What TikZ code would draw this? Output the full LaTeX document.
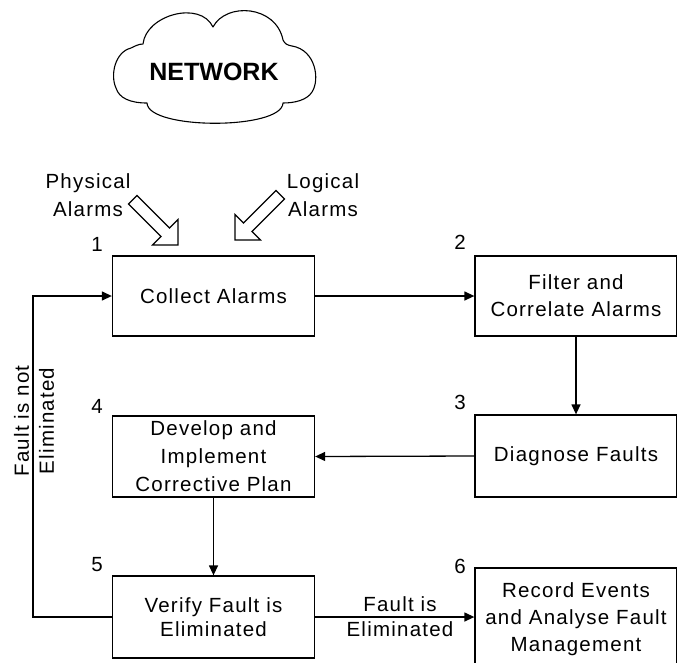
\documentclass[tikz,border=0pt]{standalone}
\usepackage{fontspec}
\setmainfont{Liberation Sans}[LetterSpace=6]
\newfontfamily\netfont{Liberation Sans}
\usetikzlibrary{arrows.meta}
\begin{document}
\begin{tikzpicture}[x=1pt,y=-1pt,
  every node/.style={font=\fontsize{20.5}{27}\selectfont, align=center, inner sep=0pt},
  procbox/.style={draw, line width=1.3pt, minimum width=202pt, minimum height=80pt},
  flow/.style={line width=1.3pt, -{Triangle[length=10pt,width=9pt]}},
  hollow/.style={draw, line width=1.1pt, fill=white, line join=miter},
  num/.style={font=\fontsize{20.5}{22}\selectfont}]
\useasboundingbox (0,0) rectangle (677,662);

% cloud
\draw[line width=1.1pt, line join=round] (147,103)
  .. controls (130,103) and (119,98) .. (116,88)
  .. controls (110,75) and (115,52) .. (131,48)
  .. controls (135,46) and (139,44) .. (143,44)
  .. controls (146,15) and (200,0) .. (213,27)
  .. controls (226,2) and (276,5) .. (283,40)
  .. controls (285,44) and (287,45) .. (292,46)
  .. controls (316,50) and (320,80) .. (312,92)
  .. controls (307,100) and (295,103) .. (283,103)
  .. controls (282,130) and (148,130) .. (147,103) -- cycle;
\node (nettext) at (214,72) {\netfont\bfseries\fontsize{25}{28}\selectfont NETWORK};

% process boxes
\node[procbox] (b1) at (213.5,296) {Collect Alarms};
\node[procbox] (b2) at (576,296) {Filter and\\Correlate Alarms};
\node[procbox, minimum height=82pt] (b3) at (576,456) {Diagnose Faults};
\node[procbox, minimum height=81pt, font=\fontsize{20.5}{28}\selectfont] (b4) at (213.5,456.5) {Develop and\\Implement\\Corrective Plan};
\node[procbox, minimum height=82pt, font=\fontsize{20.5}{24}\selectfont] (b5) at (213.5,617) {Verify Fault is\\Eliminated};
\node[procbox, minimum height=102pt] (b6) at (576,619) {Record Events\\and Analyse Fault\\Management};

% step numbers
\node[num] (n1) at (97,244) {1};
\node[num] (n2) at (460,242) {2};
\node[num] (n3) at (460,402) {3};
\node[num] (n4) at (97,406) {4};
\node[num] (n5) at (97,565) {5};
\node[num] (n6) at (460,566) {6};

% alarm sources
\node[font=\fontsize{20.5}{28}\selectfont] (phys) at (88,195) {Physical\\Alarms};
\node[font=\fontsize{20.5}{28}\selectfont] (logi) at (323,195) {Logical\\Alarms};

% hollow arrows
\draw[hollow] (178,245) -- (152.5,245) -- (161.0,236.5) -- (128.5,204.0) -- (137.0,195.5)
  -- (169.5,228.0) -- (178,219.5) -- cycle;
\draw[hollow] (235,240) -- (235,214.5) -- (243.5,223.0) -- (276.0,190.5) -- (284.5,199.0)
  -- (252.0,231.5) -- (260.5,240) -- cycle;

% connectors
\draw[flow] (b1.east) -- (b2.west);
\draw[flow] (b2.south) -- (b3.north);
\draw[flow] (b3.west) -- (b4.east);
\draw[flow] (b4.south) -- (b5.north);
\draw[flow] (b5.east) -- (b5.east -| b6.west);
\coordinate (loop) at (33,617);
\draw[flow] (b5.west) -- (loop) |- (b1.west);

% connector labels
\node[font=\fontsize{20.5}{25}\selectfont] (lbl1) at (400,617) {Fault is\\Eliminated};
\node[font=\fontsize{20.5}{25}\selectfont, rotate=90] (lbl2) at (34,421) {Fault is not\\Eliminated};
\end{tikzpicture}
\end{document}
